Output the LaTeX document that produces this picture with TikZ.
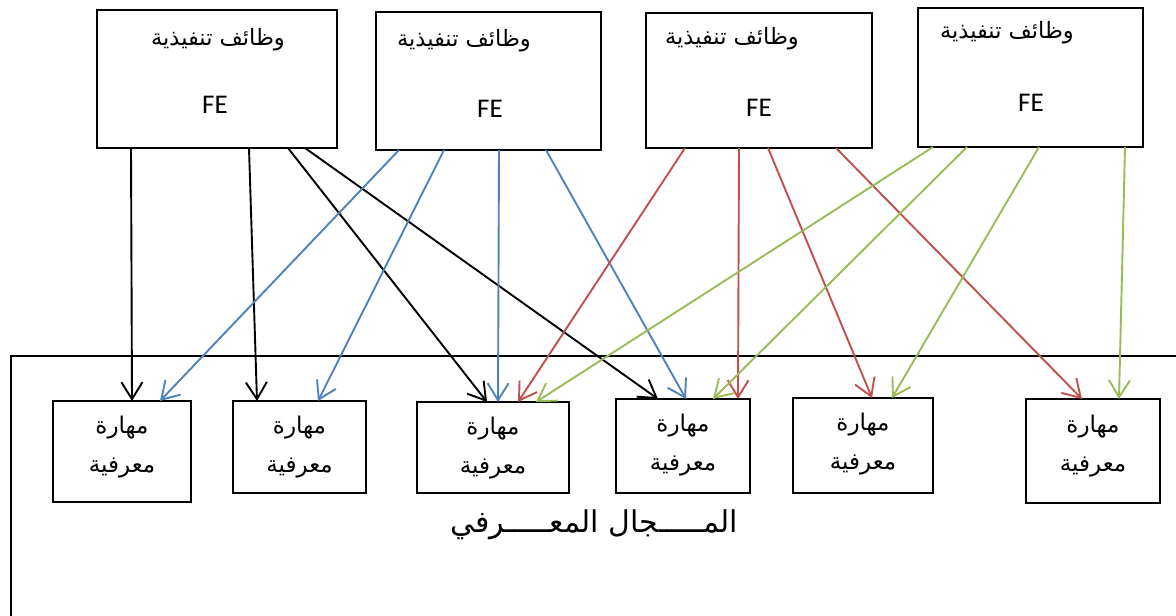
\documentclass[tikz,border=0pt]{standalone}
\usepackage{fontspec}
\setmainfont{Carlito}
\newfontfamily\arabicfont[Script=Arabic]{DejaVu Sans}
\TeXXeTstate=1
\usetikzlibrary{arrows.meta}
\definecolor{fblue}{HTML}{4F81BD}
\definecolor{fred}{HTML}{C0504D}
\definecolor{fgreen}{HTML}{9BBB59}

\begin{document}
\begin{tikzpicture}[x=1pt,y=-1pt,
  box/.style={draw, line width=2.3pt, inner sep=0pt, outer sep=0pt, anchor=north west},
  fetitle/.style={font=\arabicfont\fontsize{22.5}{26}\selectfont},
  felabel/.style={font=\fontsize{27}{30}\selectfont},
  skill/.style={font=\arabicfont\fontsize{23}{39}\selectfont, align=center},
  link/.style={line width=1.9pt, -{Straight Barb[length=17pt,width=21pt]}},
  klink/.style={link, black},
  blink/.style={link, fblue},
  rlink/.style={link, fred},
  glink/.style={link, fgreen}]
\useasboundingbox (0,0) rectangle (1176,616);

% the cognitive field frame (runs off the right and bottom edges)
\node[box, minimum width=1250pt, minimum height=320pt] (field) at (11,356) {};

% executive function boxes
\node[box, minimum width=240pt, minimum height=138pt] (t1) at (97,10) {};
\node[box, minimum width=225pt, minimum height=138pt] (t2) at (376,12) {};
\node[box, minimum width=226pt, minimum height=135pt] (t3) at (646,13) {};
\node[box, minimum width=225pt, minimum height=139pt] (t4) at (918,8) {};

\node[fetitle] (t1a) at (218,40) {\beginR وظائف تنفيذية\endR};
\node[fetitle] (t2a) at (464,41) {\beginR وظائف تنفيذية\endR};
\node[fetitle] (t3a) at (732,39) {\beginR وظائف تنفيذية\endR};
\node[fetitle] (t4a) at (1007,33) {\beginR وظائف تنفيذية\endR};

\node[felabel] (t1b) at (215,105) {FE};
\node[felabel] (t2b) at (490,109) {FE};
\node[felabel] (t3b) at (759,108) {FE};
\node[felabel] (t4b) at (1031,103) {FE};

% cognitive skill boxes
\node[box, minimum width=138pt, minimum height=101pt] (b1) at (53,401) {};
\node[box, minimum width=133pt, minimum height=92pt] (b2) at (233,401) {};
\node[box, minimum width=152pt, minimum height=91pt] (b3) at (417,402) {};
\node[box, minimum width=134pt, minimum height=94pt] (b4) at (616,399) {};
\node[box, minimum width=140pt, minimum height=95pt] (b5) at (793,398) {};
\node[box, minimum width=134pt, minimum height=104pt] (b6) at (1026,399) {};

\node[skill] (s1) at (122,447) {\beginR مهارة\endR\\\beginR معرفية\endR};
\node[skill] (s2) at (299.5,447) {\beginR مهارة\endR\\\beginR معرفية\endR};
\node[skill] (s3) at (493,448) {\beginR مهارة\endR\\\beginR معرفية\endR};
\node[skill] (s4) at (683,445) {\beginR مهارة\endR\\\beginR معرفية\endR};
\node[skill] (s5) at (863,444) {\beginR مهارة\endR\\\beginR معرفية\endR};
\node[skill] (s6) at (1093,446) {\beginR مهارة\endR\\\beginR معرفية\endR};

\node[font=\arabicfont\fontsize{30}{34}\selectfont] (dom) at (594,525)
  {\beginR المـــــجال المعـــــرفي\endR};

% black links
\draw[klink] ([xshift=34pt]t1.south west) -- ([xshift=79pt]b1.north west);
\draw[klink] ([xshift=152pt]t1.south west) -- ([xshift=24pt]b2.north west);
\draw[klink] ([xshift=191pt]t1.south west) -- ([xshift=70pt]b3.north west);
\draw[klink] ([xshift=208pt]t1.south west) -- ([xshift=42pt]b4.north west);
% blue links
\draw[blink] ([xshift=23pt]t2.south west) -- ([xshift=107pt]b1.north west);
\draw[blink] ([xshift=68pt]t2.south west) -- ([xshift=85pt]b2.north west);
\draw[blink] ([xshift=123pt]t2.south west) -- ([xshift=81pt]b3.north west);
\draw[blink] ([xshift=170pt]t2.south west) -- ([xshift=70pt]b4.north west);
% red links
\draw[rlink] ([xshift=39pt]t3.south west) -- ([xshift=101pt]b3.north west);
\draw[rlink] ([xshift=93pt]t3.south west) -- ([xshift=122pt]b4.north west);
\draw[rlink] ([xshift=122pt]t3.south west) -- ([xshift=79pt]b5.north west);
\draw[rlink] ([xshift=190pt]t3.south west) -- ([xshift=56pt]b6.north west);
% green links
\draw[glink] ([xshift=15pt]t4.south west) -- ([xshift=119pt]b3.north west);
\draw[glink] ([xshift=49pt]t4.south west) -- ([xshift=97pt]b4.north west);
\draw[glink] ([xshift=121pt]t4.south west) -- ([xshift=99pt]b5.north west);
\draw[glink] ([xshift=207pt]t4.south west) -- ([xshift=93pt]b6.north west);
\end{tikzpicture}
\end{document}
